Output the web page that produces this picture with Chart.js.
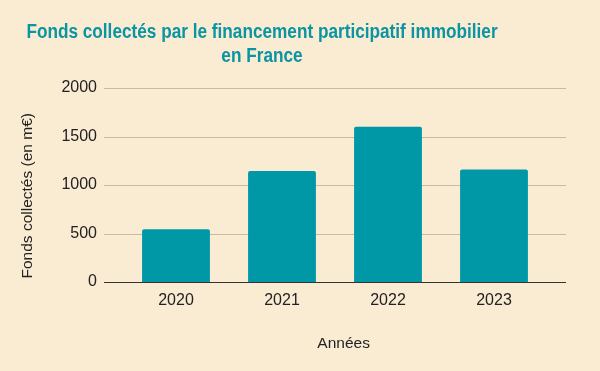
<!DOCTYPE html>
<html>
<head>
<meta charset="utf-8">
<script src="https://cdn.jsdelivr.net/npm/chart.js@4"></script>
<style>
  html,body{margin:0;padding:0;background:#faebd3;overflow:hidden;}
  #wrap{position:relative;width:600px;height:371px;overflow:hidden;}
  #title{position:absolute;left:-38px;top:20px;width:600px;text-align:center;white-space:nowrap;
    transform:scaleX(0.86);transform-origin:300px 0;
    font-family:'Liberation Sans',Arial,sans-serif;font-weight:bold;font-size:20px;line-height:23.5px;color:#0b94a1;}
</style>
</head>
<body>
<div id="wrap">
  <canvas id="c" width="600" height="371"></canvas>
  <div id="title">Fonds collectés par le financement participatif immobilier<br>en France</div>
</div>
<script>
// Fonds collectés (en m€) par année
var years=['2020','2021','2022','2023'];
var fonds=[545,1145,1600,1160];
var yTicks=[0,500,1000,1500,2000];

var font="'Liberation Sans',Arial,sans-serif";
var nb='\u00a0';

// grid lines stretch a bit past the bars, like the source chart
var wideGrid={
  id:'wideGrid',
  beforeDatasetsDraw:function(chart){
    var ctx=chart.ctx,a=chart.chartArea,y=chart.scales.y,ext=19;
    ctx.save();
    yTicks.forEach(function(v){
      var py=Math.round(y.getPixelForValue(v))+0.5;
      ctx.beginPath();
      ctx.strokeStyle=v===0?'#333333':'#c9baa2';
      ctx.lineWidth=1;
      ctx.moveTo(a.left-ext,py);ctx.lineTo(a.right+ext,py);ctx.stroke();
    });
    ctx.restore();
  }
};

new Chart(document.getElementById('c'),{
  type:'bar',
  data:{labels:years,datasets:[{data:fonds,backgroundColor:'#0097a7',borderRadius:2,borderSkipped:'bottom',barPercentage:0.64,categoryPercentage:1}]},
  options:{
    responsive:false,animation:false,
    layout:{padding:{top:88,right:53,bottom:0,left:0}},
    plugins:{legend:{display:false},tooltip:{enabled:false}},
    scales:{
      x:{grid:{display:false,drawTicks:false},border:{display:false},
        ticks:{color:'#222',font:{family:font,size:16},padding:9},
        title:{display:true,text:nb.repeat(4)+'Années',color:'#222',font:{family:font,size:15.5},padding:{top:4,bottom:18}},
        afterFit:function(s){s.height=89;}},
      y:{min:0,max:2000,grid:{display:false,drawTicks:false},border:{display:false},
        afterBuildTicks:function(s){s.ticks=yTicks.map(function(v){return {value:v};});},
        ticks:{color:'#222',font:{family:font,size:16},padding:26,callback:function(v){return String(v);}},
        title:{display:true,text:'Fonds collectés (en m€)'+nb.repeat(5),color:'#222',font:{family:font,size:15.5},padding:{top:18,bottom:0}},
        afterFit:function(s){s.width=123;}}
    }
  },
  plugins:[wideGrid]
});
</script>
</body>
</html>
